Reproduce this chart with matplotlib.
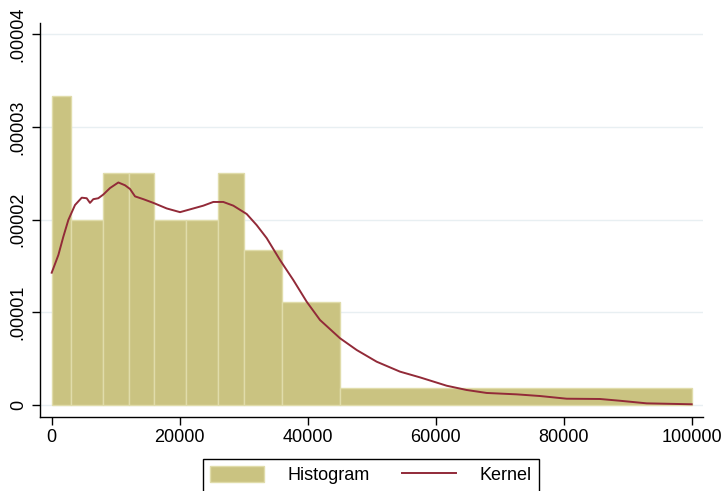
import matplotlib
matplotlib.use("Agg")
import matplotlib.pyplot as plt
from matplotlib.patches import Patch
from matplotlib.lines import Line2D

plt.rcParams['font.family'] = ['Liberation Sans', 'DejaVu Sans']

# Histogram bin edges and densities
bin_edges = [0, 3000, 8000, 12000, 16000, 21000, 26000, 30000, 36000, 45000, 100000]
densities = [3.33e-5, 2.0e-5, 2.5e-5, 2.5e-5, 2.0e-5, 2.0e-5, 2.5e-5, 1.667e-5, 1.111e-5, 1.82e-6]

# Kernel density estimate
kx = [0, 1040, 1820, 2600, 3640, 4690, 5470, 5980, 6500, 7280, 8060, 9110, 10410,
      11450, 12230, 13020, 14320, 15880, 17970, 20050, 22130, 23690, 25250, 26810,
      28380, 30470, 32030, 33590, 35670, 37750, 39840, 41920, 45050, 47660, 50780,
      54420, 57550, 61720, 64840, 67970, 72660, 76300, 80470, 85670, 88800, 92970, 100000]
ky = [1.427, 1.618, 1.816, 1.996, 2.157, 2.236, 2.23, 2.18, 2.22, 2.23, 2.27, 2.34, 2.40,
      2.37, 2.33, 2.25, 2.22, 2.18, 2.12, 2.08, 2.12, 2.15, 2.19, 2.19,
      2.15, 2.06, 1.94, 1.80, 1.564, 1.348, 1.114, 0.917, 0.72, 0.593, 0.467,
      0.36, 0.298, 0.208, 0.162, 0.13, 0.115, 0.097, 0.068, 0.065, 0.046, 0.018, 0.008]
ky = [v * 1e-5 for v in ky]

xticks = [0, 20000, 40000, 60000, 80000, 100000]
yticks = [0, 0.00001, 0.00002, 0.00003, 0.00004]
ytick_labels = ['0', '.00001', '.00002', '.00003', '.00004']

bar_color = '#cac381'
bar_edge = '#e0dcaa'
line_color = '#922a38'

fig = plt.figure(figsize=(7.25, 4.91), dpi=100)
ax = fig.add_axes([40/725, 1 - 416.7/491, (703 - 40)/725, (416.7 - 23)/491])

lefts = bin_edges[:-1]
widths = [bin_edges[i + 1] - bin_edges[i] for i in range(len(densities))]
ax.bar(lefts, densities, width=widths, align='edge', color=bar_color,
       edgecolor=bar_edge, linewidth=1.0, zorder=2)
ax.plot(kx, ky, color=line_color, linewidth=1.4, zorder=3)

ax.set_xlim(-1830, 101766)
ax.set_ylim(-1.26e-6, 4.12e-5)
ax.set_xticks(xticks)
ax.set_xticklabels([str(v) for v in xticks])
ax.set_yticks(yticks)
ax.set_yticklabels(ytick_labels, rotation=90, va='center')
ax.tick_params(axis='both', direction='out', length=6, width=1, labelsize=13, colors='black')
ax.tick_params(axis='x', pad=3)
ax.yaxis.grid(True, color='#e8eff2', linewidth=1.0, zorder=0)
ax.set_axisbelow(True)
for s in ['top', 'right']:
    ax.spines[s].set_visible(False)
for s in ['left', 'bottom']:
    ax.spines[s].set_linewidth(1.0)
    ax.spines[s].set_color('black')

handles = [Patch(facecolor=bar_color, edgecolor=bar_edge, linewidth=1.0),
           Line2D([], [], color=line_color, linewidth=1.4)]
leg = fig.legend(handles, ['Histogram', 'Kernel'], loc='upper center',
                 bbox_to_anchor=(371/725, 1 - 459/491), ncol=2, fontsize=13,
                 frameon=True, fancybox=False, edgecolor='black', framealpha=1,
                 handlelength=3.0, handleheight=1.0, columnspacing=1.8,
                 borderpad=0.4, handletextpad=1.3, borderaxespad=0)
leg.get_frame().set_linewidth(1.0)

fig.savefig('out.png', dpi=100, facecolor='white')
